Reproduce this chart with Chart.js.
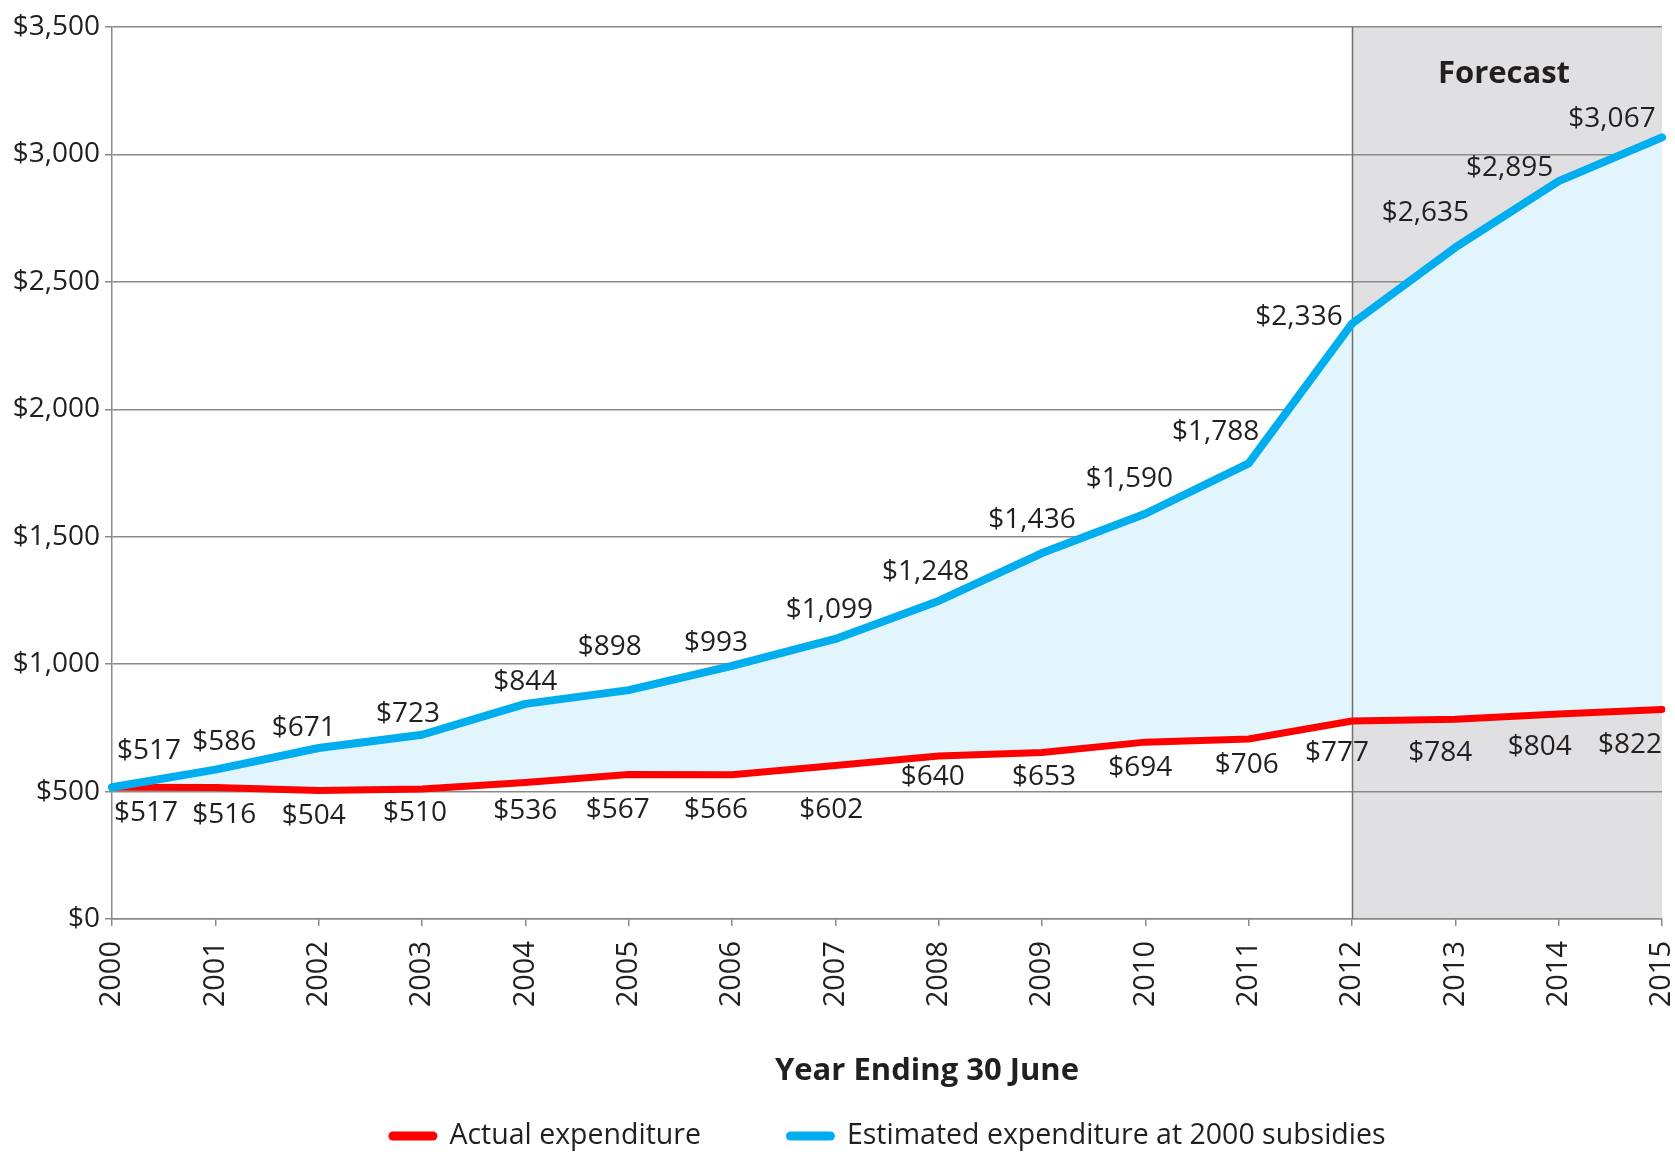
<!DOCTYPE html>
<html>
<head>
<meta charset="utf-8">
<script src="https://cdn.jsdelivr.net/npm/chart.js@4.4.1/dist/chart.umd.min.js"></script>
<style>
  html, body { margin: 0; padding: 0; background: #ffffff; }
  #wrap { width: 1675px; height: 1152px; }
</style>
</head>
<body>
<div id="wrap"><canvas id="chart" width="1675" height="1152"></canvas></div>
<script>
// Years ending 30 June
const years = ['2000', '2001', '2002', '2003', '2004', '2005', '2006', '2007',
               '2008', '2009', '2010', '2011', '2012', '2013', '2014', '2015'];

// Actual expenditure ($m)
const actualExpenditure = [517, 516, 504, 510, 536, 567, 566, 602,
                           640, 653, 694, 706, 777, 784, 804, 822];

// Estimated expenditure at 2000 subsidies ($m)
const estimatedExpenditure = [517, 586, 671, 723, 844, 898, 993, 1099,
                              1248, 1436, 1590, 1788, 2336, 2635, 2895, 3067];

const yTickValues = [0, 500, 1000, 1500, 2000, 2500, 3000, 3500];
const forecastFrom = '2012';
const seriesNames = ['Actual expenditure', 'Estimated expenditure at 2000 subsidies'];
const forecastTitle = 'Forecast';
const xAxisTitle = 'Year Ending 30 June';

// Value label nudges (px, relative to each point)
const estLabelDx = [37, 9, -15, -14, 0, -19, -16, -6, -13, -10, -16, -33, -53, -30, -49, -50];
const estLabelDy = [-36, -28, -20, -21, -22, -43, -23, -29, -29, -33, -35, -31, -7, -34, -13, -18];
const actLabelDx = [34, 9, -5, -7, 0, -11, -16, -4, -6, 2, -5, -2, -15, -15, -19, -32];
const actLabelDy = [26, 28, 25, 24, 29, 36, 35, 44, 21, 24, 26, 26, 32, 34, 33, 36];

const FONT = '"Open Sans", "Noto Sans", sans-serif';
const INK = '#231f20';
const GRID = '#8a8a8a';
const RED = '#fe0000';
const BLUE = '#00aeef';
const BLUE_FILL = '#e2f4fc';
const BAND = '#e0e0e2';

const money = v => '$' + Number(v).toLocaleString('en-US');

const decor = {
  id: 'decor',
  beforeDraw(chart) {
    const { ctx, chartArea: a, scales: { x } } = chart;
    const x0 = x.getPixelForValue(years.indexOf(forecastFrom));
    ctx.save();
    ctx.fillStyle = BAND;
    ctx.fillRect(x0, a.top, a.right - x0, a.bottom - a.top);
    ctx.restore();
  },
  beforeDatasetsDraw(chart) {
    const { ctx, chartArea: a, scales: { x } } = chart;
    const x0 = Math.round(x.getPixelForValue(years.indexOf(forecastFrom))) + 0.5;
    ctx.save();
    ctx.strokeStyle = '#707070';
    ctx.lineWidth = 1.5;
    ctx.beginPath();
    ctx.moveTo(x0, a.top);
    ctx.lineTo(x0, a.bottom);
    ctx.stroke();
    ctx.restore();
  },
  afterDatasetsDraw(chart) {
    const { ctx } = chart;
    const specs = [
      { idx: 0, dx: estLabelDx, dy: estLabelDy },
      { idx: 1, dx: actLabelDx, dy: actLabelDy }
    ];
    ctx.save();
    ctx.font = '28px ' + FONT;
    ctx.fillStyle = INK;
    ctx.textAlign = 'center';
    ctx.textBaseline = 'middle';
    specs.forEach(s => {
      const meta = chart.getDatasetMeta(s.idx);
      const values = chart.data.datasets[s.idx].data;
      meta.data.forEach((pt, i) => {
        ctx.fillText(money(values[i]), pt.x + s.dx[i], pt.y + s.dy[i]);
      });
    });
    ctx.restore();
  },
  afterDraw(chart) {
    const { ctx, chartArea: a, scales: { x } } = chart;
    const x0 = x.getPixelForValue(years.indexOf(forecastFrom));
    ctx.save();
    ctx.fillStyle = INK;
    ctx.textBaseline = 'middle';
    ctx.textAlign = 'center';

    // forecast band heading
    ctx.font = 'bold 31px ' + FONT;
    ctx.fillText(forecastTitle, (x0 + a.right) / 2 - 3, a.top + 47);

    // x axis title
    ctx.font = 'bold 31px ' + FONT;
    ctx.fillText(xAxisTitle, (a.left + a.right) / 2 + 40, a.bottom + 152);

    // legend (red series first)
    const order = [1, 0];
    ctx.font = '28.5px ' + FONT;
    const sw = 49, gapText = 12, gapItem = 85;
    const widths = order.map(i => sw + gapText + ctx.measureText(chart.data.datasets[i].label).width);
    const total = widths.reduce((p, c) => p + c, 0) + gapItem * (order.length - 1);
    let cx = (a.left + a.right) / 2 - total / 2;
    const ly = a.bottom + 217;
    ctx.textAlign = 'left';
    order.forEach((di, k) => {
      const ds = chart.data.datasets[di];
      ctx.strokeStyle = ds.borderColor;
      ctx.lineWidth = 9;
      ctx.lineCap = 'round';
      ctx.beginPath();
      ctx.moveTo(cx + 4.5, ly);
      ctx.lineTo(cx + sw - 4.5, ly);
      ctx.stroke();
      ctx.fillText(ds.label, cx + sw + gapText, ly);
      cx += widths[k] + gapItem;
    });
    ctx.restore();
  }
};

function build() {
  new Chart(document.getElementById('chart'), {
    type: 'line',
    data: {
      labels: years,
      datasets: [
        {
          label: seriesNames[1],
          data: estimatedExpenditure,
          borderColor: BLUE,
          backgroundColor: BLUE_FILL,
          borderWidth: 8,
          fill: '+1',
          pointRadius: 0,
          borderCapStyle: 'round',
          borderJoinStyle: 'round',
          tension: 0
        },
        {
          label: seriesNames[0],
          data: actualExpenditure,
          borderColor: RED,
          backgroundColor: RED,
          borderWidth: 7,
          fill: false,
          pointRadius: 0,
          borderCapStyle: 'round',
          borderJoinStyle: 'round',
          tension: 0
        }
      ]
    },
    options: {
      responsive: false,
      animation: false,
      layout: { padding: { top: 27, right: 13, bottom: 0, left: 0 } },
      plugins: {
        legend: { display: false },
        tooltip: { enabled: false },
        filler: { drawTime: 'beforeDatasetsDraw' }
      },
      scales: {
        x: {
          offset: false,
          border: { display: true, color: GRID, width: 1.5 },
          grid: { drawOnChartArea: false, drawTicks: true, tickLength: 7, color: GRID, lineWidth: 1.5 },
          ticks: {
            autoSkip: false, minRotation: 90, maxRotation: 90, padding: 15,
            color: INK, font: { family: FONT, size: 29 }
          },
          afterFit(s) { s.height = 233; s.paddingLeft = 0; s.paddingRight = 0; }
        },
        y: {
          min: 0, max: 3500,
          border: { display: true, color: GRID, width: 1.5 },
          grid: { color: GRID, lineWidth: 1.5, tickLength: 7 },
          afterBuildTicks(s) { s.ticks = yTickValues.map(v => ({ value: v })); },
          ticks: {
            padding: 5, color: INK, font: { family: FONT, size: 28 },
            callback: v => money(v)
          },
          afterFit(s) { s.width = 112; s.paddingTop = 0; s.paddingBottom = 0; }
        }
      }
    },
    plugins: [decor]
  });
}

if (document.fonts && document.fonts.load) {
  Promise.all([
    document.fonts.load('28px "Open Sans"'),
    document.fonts.load('bold 31px "Open Sans"')
  ]).then(build, build);
} else {
  build();
}
</script>
</body>
</html>
